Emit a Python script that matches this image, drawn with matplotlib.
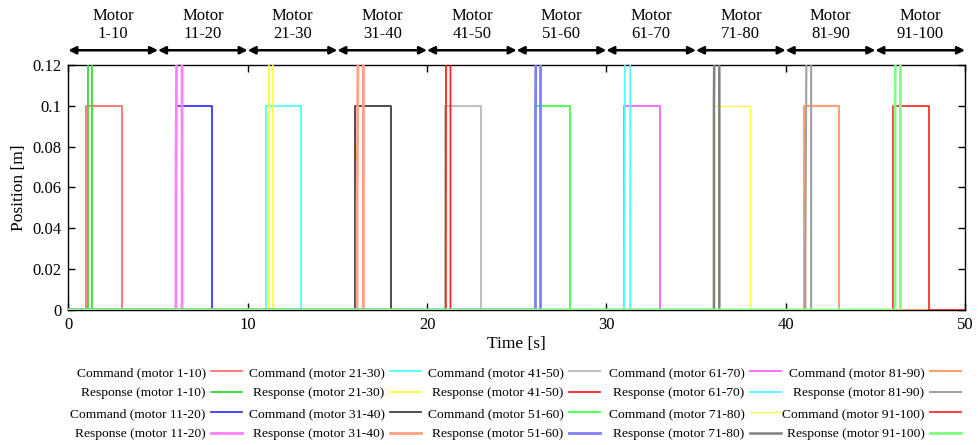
import matplotlib
matplotlib.use('Agg')
import matplotlib.pyplot as plt
import numpy as np

plt.rcParams['font.family'] = ['Liberation Serif', 'DejaVu Serif']

# motor groups
groups = ['1-10', '11-20', '21-30', '31-40', '41-50',
          '51-60', '61-70', '71-80', '81-90', '91-100']
group_edges = [0, 5, 10, 15, 20, 25, 30, 35, 40, 45, 50]

# command pulses (s) and level (m)
cmd_on = [1.0, 6.0, 11.0, 16.0, 21.0, 26.0, 31.0, 36.0, 41.0, 46.0]
cmd_off = [3.0, 8.0, 13.0, 18.0, 23.0, 28.0, 33.0, 38.0, 43.0, 48.0]
cmd_level = 0.1

# response: starts moving, first jump value, leaves top, drops through
resp_start = [1.08, 6.0, 11.17, 16.1, 21.05, 26.05, 31.0, 36.0, 41.1, 46.1]
resp_mid = [0.0, 0.058, 0.0, 0.05, 0.012, 0.09, 0.025, 0.1, 0.03, 0.1]
resp_up = [1.08, 6.08, 11.17, 16.21, 21.07, 26.1, 31.07, 36.08, 41.2, 46.18]
resp_down = [1.32, 6.34, 11.41, 16.45, 21.31, 26.33, 31.33, 36.3, 41.42, 46.4]
resp_big = 0.2

cmd_colors = ['#ff7070', '#3a3aff', '#60ffff', '#404040', '#c0c0c0',
              '#40ff40', '#ff60ff', '#ffff50', '#ffa070', '#ff3030']
resp_colors = ['#30e030', '#ff80ff', '#ffff30', '#ffa080', '#ff2020',
               '#8080ff', '#50ffff', '#808080', '#a0a0a0', '#80ff80']
cmd_lw = [1.3, 1.3, 1.5, 1.3, 1.5, 1.3, 1.3, 1.0, 1.5, 1.3]
resp_lw = [1.3, 2.0, 1.3, 2.0, 1.3, 2.0, 1.3, 1.8, 1.5, 2.0]

fig = plt.figure(figsize=(9.79, 4.45), dpi=100)
ax = fig.add_axes([0.0698, 0.3034, 0.9159, 0.5506])

handles = []
labels = []
for i, g in enumerate(groups):
    t_c = [0, cmd_on[i], cmd_on[i], cmd_off[i], cmd_off[i], 50]
    y_c = [0, 0, cmd_level, cmd_level, 0, 0]
    h1, = ax.plot(t_c, y_c, color=cmd_colors[i], lw=cmd_lw[i], zorder=3)
    t_r = [0, resp_start[i], resp_start[i], resp_up[i], resp_down[i], resp_down[i], 50]
    y_r = [0, 0, resp_mid[i], resp_big, resp_big, -resp_big, -resp_big]
    h2, = ax.plot(t_r, y_r, color=resp_colors[i], lw=resp_lw[i], zorder=3)
    handles += [h1, h2]
    labels += [f'Command (motor {g})', f'Response (motor {g})']

ax.set_xlim(0, 50)
ax.set_ylim(0, 0.12)
ax.set_xticks([0, 10, 20, 30, 40, 50])
ax.set_yticks([0, 0.02, 0.04, 0.06, 0.08, 0.1, 0.12])
ax.set_yticklabels(['0', '0.02', '0.04', '0.06', '0.08', '0.1', '0.12'])
ax.tick_params(direction='in', top=True, right=True, length=5, width=1,
               labelsize=12, pad=5)
for s in ax.spines.values():
    s.set_linewidth(1.0)
ax.set_xlabel('Time [s]', fontsize=12.5, labelpad=2)
ax.set_ylabel('Position [m]', fontsize=12.5, labelpad=4)

# group arrows and labels above the axes
tr = ax.get_xaxis_transform()
for i, g in enumerate(groups):
    x0, x1 = group_edges[i], group_edges[i + 1]
    ax.annotate('', xy=(x1, 1.06), xytext=(x0, 1.06), xycoords=tr,
                textcoords=tr, annotation_clip=False,
                arrowprops=dict(arrowstyle='<|-|>', color='black', lw=1.8,
                                mutation_scale=11, shrinkA=0, shrinkB=0))
    ax.text((x0 + x1) / 2, 1.162, 'Motor\n' + g, transform=tr, ha='center',
            va='center', fontsize=12, linespacing=1.2)

# legend: five columns of four entries, gnuplot style (text then sample)
col_right = [0.2472, 0.4300, 0.6129, 0.7978, 0.9816]
for c in range(5):
    fig.legend(handles[4 * c:4 * c + 4], labels[4 * c:4 * c + 4],
               loc='center right', bbox_to_anchor=(col_right[c], 0.0935),
               frameon=False, markerfirst=False, fontsize=9.7,
               handlelength=2.3, handletextpad=0.4, labelspacing=0.6,
               borderpad=0, borderaxespad=0)

fig.savefig('out.png', dpi=100)
